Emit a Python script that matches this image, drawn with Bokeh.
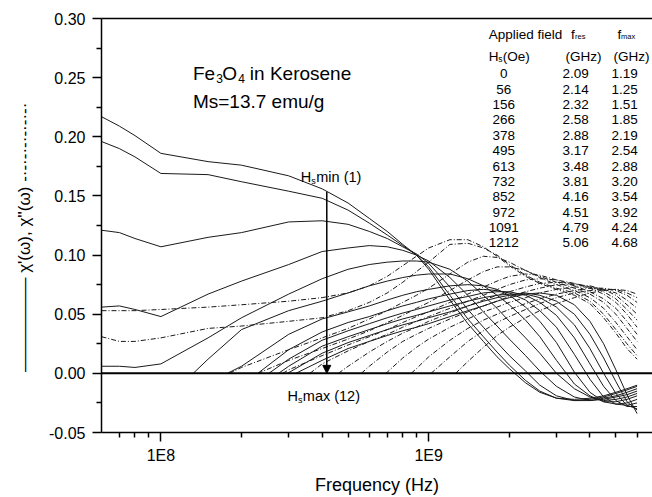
from bokeh.plotting import figure
from bokeh.models import (Range1d, FixedTicker, CustomJSTickFormatter, PrintfTickFormatter,
                          LogAxis, Label, Span, Arrow, NormalHead)
from bokeh.embed import file_html
from bokeh.resources import INLINE

# ---------------- data ----------------
freq = [6e7, 7e7, 8e7, 1e8, 1.5e8, 2e8, 3e8, 4e8, 5e8, 6e8, 7e8, 8e8, 9e8, 1e9,
        1.2e9, 1.4e9, 1.6e9, 1.8e9, 2e9, 2.3e9, 2.6e9, 3e9, 3.5e9, 4e9, 4.5e9, 5e9, 5.5e9, 6e9]

fields = [0, 56, 156, 266, 378, 495, 613, 732, 852, 972, 1091, 1212]
f_res = [2.09, 2.14, 2.32, 2.58, 2.88, 3.17, 3.48, 3.81, 4.16, 4.51, 4.79, 5.06]
f_max = [1.19, 1.25, 1.51, 1.85, 2.19, 2.54, 2.88, 3.20, 3.54, 3.92, 4.24, 4.68]

N = None
# chi' (solid), one list per field
re_0 = [0.217, 0.209, 0.201, 0.186, 0.179, 0.176, 0.167, 0.156, 0.144, 0.131, 0.120, 0.109, 0.100, 0.088,
        0.062, 0.042, 0.027, 0.014, 0.004, -0.008, -0.016, -0.021, -0.022, -0.021, -0.019, -0.016, -0.013, -0.010]
re_56 = [0.196, 0.190, 0.183, 0.169, 0.168, 0.162, 0.154, 0.148, 0.138, 0.127, 0.117, 0.108, 0.100, 0.090,
         0.066, 0.046, 0.031, 0.018, 0.007, -0.006, -0.015, -0.021, -0.023, -0.022, -0.020, -0.017, -0.014, -0.011]
re_156 = [0.121, 0.119, 0.114, 0.107, 0.115, 0.119, 0.128, 0.129, 0.126, 0.120, 0.114, 0.107, 0.101, 0.093,
          0.073, 0.054, 0.039, 0.026, 0.015, 0.002, -0.010, -0.019, -0.023, -0.023, -0.021, -0.019, -0.016, -0.013]
re_266 = [0.056, 0.057, 0.054, 0.048, 0.067, 0.078, 0.092, 0.103, 0.106, 0.108, 0.107, 0.104, 0.100, 0.095,
          0.081, 0.066, 0.052, 0.040, 0.029, 0.015, 0.002, -0.011, -0.020, -0.023, -0.022, -0.020, -0.018, -0.015]
re_378 = [0.006, 0.006, 0.005, 0.008, 0.030, 0.047, 0.067, 0.080, 0.088, 0.092, 0.094, 0.095, 0.095, 0.094,
          0.088, 0.078, 0.066, 0.055, 0.044, 0.030, 0.017, 0.000, -0.013, -0.020, -0.023, -0.022, -0.020, -0.017]
re_495 = [N, N, N, N, 0.012, 0.037, 0.053, 0.061, 0.068, 0.074, 0.078, 0.081, 0.083, 0.084,
          0.084, 0.080, 0.074, 0.066, 0.058, 0.045, 0.031, 0.011, -0.009, -0.019, -0.024, -0.024, -0.022, -0.019]
re_613 = [N, N, N, N, N, 0.006, 0.033, 0.046, 0.052, 0.057, 0.062, 0.066, 0.069, 0.071,
          0.074, 0.075, 0.074, 0.071, 0.066, 0.056, 0.044, 0.026, 0.001, -0.016, -0.024, -0.026, -0.025, -0.022]
re_732 = [N, N, N, N, N, N, 0.020, 0.035, 0.043, 0.048, 0.053, 0.057, 0.060, 0.063,
          0.067, 0.070, 0.071, 0.070, 0.068, 0.062, 0.053, 0.039, 0.016, -0.005, -0.020, -0.026, -0.027, -0.025]
re_852 = [N, N, N, N, N, N, 0.012, 0.028, 0.036, 0.042, 0.047, 0.051, 0.054, 0.057,
          0.062, 0.065, 0.068, 0.069, 0.069, 0.066, 0.060, 0.049, 0.030, 0.008, -0.011, -0.023, -0.028, -0.028]
re_972 = [N, N, N, N, N, N, 0.006, 0.023, 0.031, 0.037, 0.042, 0.046, 0.049, 0.052,
          0.057, 0.061, 0.064, 0.066, 0.067, 0.067, 0.064, 0.056, 0.041, 0.021, 0.000, -0.017, -0.027, -0.030]
re_1091 = [N, N, N, N, N, N, N, 0.017, 0.026, 0.032, 0.037, 0.041, 0.044, 0.047,
           0.052, 0.057, 0.061, 0.064, 0.066, 0.068, 0.066, 0.061, 0.050, 0.033, 0.013, -0.007, -0.024, -0.031]
re_1212 = [N, N, N, N, N, N, N, 0.011, 0.021, 0.027, 0.032, 0.036, 0.039, 0.042,
           0.048, 0.053, 0.057, 0.061, 0.064, 0.067, 0.068, 0.066, 0.058, 0.044, 0.025, 0.003, -0.018, -0.034]
# frequency where a chi' curve leaves the zero line
re_onset = [N, N, N, N, N, 1.32e8, 1.77e8, 2.3e8, 2.53e8, 2.75e8, 2.97e8, 3.19e8]

# chi'' (dash-dot), one list per field
im_0 = [0.053, 0.053, 0.053, 0.054, 0.056, 0.058, 0.061, 0.064, 0.068, 0.074, 0.082, 0.091, 0.099, 0.106,
        0.113, 0.113, 0.107, 0.099, 0.091, 0.082, 0.076, 0.071, 0.066, 0.059, 0.047, 0.034, 0.021, 0.012]
im_56 = [0.031, 0.027, 0.027, 0.030, 0.038, 0.040, 0.044, 0.047, 0.053, 0.060, 0.068, 0.077, 0.086, 0.094,
         0.109, 0.110, 0.106, 0.100, 0.092, 0.083, 0.077, 0.072, 0.068, 0.061, 0.050, 0.037, 0.025, 0.015]
im_156 = [N, N, N, N, N, 0.005, 0.020, 0.030, 0.038, 0.046, 0.053, 0.060, 0.066, 0.072,
          0.084, 0.094, 0.099, 0.098, 0.094, 0.087, 0.081, 0.075, 0.070, 0.064, 0.055, 0.043, 0.031, 0.020]
im_266 = [N, N, N, N, N, N, 0.011, 0.021, 0.029, 0.036, 0.043, 0.049, 0.055, 0.060,
          0.070, 0.079, 0.086, 0.090, 0.090, 0.087, 0.082, 0.077, 0.072, 0.067, 0.060, 0.050, 0.038, 0.027]
im_378 = [N, N, N, N, N, N, 0.003, 0.015, 0.024, 0.031, 0.037, 0.043, 0.048, 0.052,
          0.060, 0.067, 0.073, 0.078, 0.082, 0.084, 0.083, 0.079, 0.074, 0.069, 0.063, 0.055, 0.044, 0.033]
im_495 = [N, N, N, N, N, N, N, 0.008, 0.019, 0.027, 0.033, 0.039, 0.044, 0.048,
          0.055, 0.061, 0.066, 0.071, 0.075, 0.079, 0.080, 0.079, 0.076, 0.072, 0.067, 0.060, 0.050, 0.039]
im_613 = [N, N, N, N, N, N, N, N, 0.006, 0.018, 0.027, 0.034, 0.039, 0.044,
          0.051, 0.057, 0.062, 0.066, 0.069, 0.073, 0.076, 0.077, 0.076, 0.073, 0.069, 0.063, 0.054, 0.045]
im_732 = [N, N, N, N, N, N, N, N, N, 0.006, 0.018, 0.027, 0.033, 0.038,
          0.046, 0.052, 0.057, 0.061, 0.065, 0.069, 0.072, 0.075, 0.075, 0.074, 0.071, 0.066, 0.058, 0.050]
im_852 = [N, N, N, N, N, N, N, N, N, N, 0.001, 0.013, 0.022, 0.029,
          0.039, 0.046, 0.052, 0.056, 0.060, 0.064, 0.068, 0.071, 0.073, 0.073, 0.071, 0.068, 0.062, 0.055]
im_972 = [N, N, N, N, N, N, N, N, N, N, N, N, 0.004, 0.014,
          0.028, 0.038, 0.045, 0.050, 0.054, 0.059, 0.063, 0.067, 0.070, 0.072, 0.072, 0.070, 0.066, 0.060]
im_1091 = [N, N, N, N, N, N, N, N, N, N, N, N, N, N,
           0.014, 0.027, 0.036, 0.043, 0.048, 0.054, 0.059, 0.064, 0.068, 0.070, 0.071, 0.071, 0.068, 0.064]
im_1212 = [N, N, N, N, N, N, N, N, N, N, N, N, N, N,
           N, 0.010, 0.022, 0.032, 0.039, 0.047, 0.053, 0.059, 0.064, 0.068, 0.070, 0.071, 0.070, 0.067]
im_onset = [N, N, 1.8e8, 2.3e8, 2.85e8, 3.6e8, 4.6e8, 5.6e8, 6.9e8, 8.6e8, 1.02e9, 1.26e9]

x_major = [1e8, 1e9]
x_minor = [7e7, 8e7, 9e7, 2e8, 3e8, 4e8, 5e8, 6e8, 7e8, 8e8, 9e8, 2e9, 3e9, 4e9, 5e9, 6e9]
y_major = [-0.05, 0.0, 0.05, 0.10, 0.15, 0.20, 0.25, 0.30]
y_minor = [-0.025, 0.025, 0.075, 0.125, 0.175, 0.225, 0.275]

re_curves = [re_0, re_56, re_156, re_266, re_378, re_495, re_613, re_732, re_852, re_972, re_1091, re_1212]
im_curves = [im_0, im_56, im_156, im_266, im_378, im_495, im_613, im_732, im_852, im_972, im_1091, im_1212]

# ---------------- layout helpers (reference pixel -> data) ----------------
X0, DEC = 428.0, 268.0      # pixel of 1E9, pixels per decade
Y0, PPU = 375.6, 1191.4     # pixel of 0.00, pixels per unit


def fx(px):
    return 1e9 * 10 ** ((px - X0) / DEC)


def vy(py):
    return (Y0 - py) / PPU


FONT = "Liberation Sans"
INK = "#1a1a1a"

p = figure(width=652, height=497, x_axis_type="log",
           x_range=Range1d(6e7, 6.85e9), y_range=Range1d(-0.05, 0.30),
           output_backend="svg", toolbar_location=None,
           min_border_left=101, min_border_right=0, min_border_top=18, min_border_bottom=62)
p.grid.visible = False
p.outline_line_color = None
p.background_fill_color = "white"
p.border_fill_color = "white"


def build(vals, onset):
    xs, ys = [], []
    if onset is not None:
        xs.append(onset)
        ys.append(0.0)
    for f, v in zip(freq, vals):
        if v is not None:
            xs.append(f)
            ys.append(v)
    return xs, ys


for vals, on in zip(im_curves, im_onset):
    xs, ys = build(vals, on)
    p.line(xs, ys, line_color=INK, line_width=1, line_dash="5 2 1 2")
for vals, on in zip(re_curves, re_onset):
    xs, ys = build(vals, on)
    p.line(xs, ys, line_color=INK, line_width=1)

p.add_layout(Span(location=0, dimension="width", line_color="black", line_width=2))

# axes
xa = p.xaxis[0]
xa.ticker = FixedTicker(ticks=x_major, minor_ticks=x_minor)
xa.formatter = CustomJSTickFormatter(code="return '1E' + Math.round(Math.log10(tick));")
ya = p.yaxis[0]
ya.ticker = FixedTicker(ticks=y_major, minor_ticks=y_minor)
ya.formatter = PrintfTickFormatter(format="%.2f")
for ax in (xa, ya):
    ax.axis_line_width = 1.5
    ax.axis_line_color = "black"
    ax.major_tick_line_width = 1.5
    ax.minor_tick_line_width = 1.5
    ax.major_tick_in = 0
    ax.major_tick_out = 9
    ax.minor_tick_in = 0
    ax.minor_tick_out = 5
    ax.major_label_text_font = FONT
    ax.major_label_text_font_size = "16px"
    ax.major_label_text_color = "black"
    ax.axis_label_text_font = FONT
    ax.axis_label_text_font_style = "normal"
    ax.axis_label_text_color = "black"
xa.major_label_standoff = 5
xa.axis_label = "Frequency (Hz)"
xa.axis_label_text_font_size = "18px"
xa.axis_label_standoff = 8
ya.major_label_standoff = 7
# axis title with its own line keys: solid line for chi', dash-dot line for chi''
key_solid = "\u2014" * 5 + "\u2013"
key_dashdot = "-\u00b7" * 7
ya.axis_label = key_solid + "    " + "χ'(ω), χ''(ω)" + "   " + key_dashdot
ya.axis_label_text_font_size = "17px"
ya.axis_label_standoff = 12

top = LogAxis(ticker=FixedTicker(ticks=[]), major_tick_out=0, major_tick_in=0,
              minor_tick_out=0, minor_tick_in=0, major_label_text_font_size="0px",
              major_label_standoff=0, axis_line_width=1.5, axis_line_color="black")
p.add_layout(top, "above")

# arrow Hs min -> Hs max
p.add_layout(Arrow(end=NormalHead(size=8, fill_color="black", line_color="black"),
                   x_start=fx(326), x_end=fx(326), y_start=vy(192.7), y_end=0.0,
                   line_color="black", line_width=1.5))


def txt(px, py, s, size, align="left"):
    p.add_layout(Label(x=fx(px), y=vy(py), text=s, text_font=FONT, text_font_size=f"{size}px",
                       text_color="black", text_align=align, text_baseline="alphabetic"))


# sample description
txt(192, 73.3, "Fe", 19)
txt(215.5, 78.5, "3", 12)
txt(221.5, 73.3, "O", 19)
txt(237.5, 78.5, "4", 12)
txt(249, 73.3, "in Kerosene", 19)
txt(192, 101.7, "Ms=13.7 emu/g", 19)

# Hs min / Hs max
txt(300, 178.3, "H", 14.5)
txt(310.5, 182, "s", 9)
txt(315.5, 178.3, "min (1)", 14.5)
txt(286.7, 398.3, "H", 14.5)
txt(297.2, 402, "s", 9)
txt(302, 398.3, "max (12)", 14.5)

# table
TS = 13.5
txt(488, 34, "Applied field", TS)
txt(570.5, 34, "f", TS)
txt(574.5, 36.5, "res", 7.5)
txt(617, 34, "f", TS)
txt(620.5, 36.5, "max", 7.5)
txt(488, 56, "H", TS)
txt(497.7, 59, "s", 8.5)
txt(502, 56, "(Oe)", TS)
txt(583, 56, "(GHz)", TS, "center")
txt(631, 56, "(GHz)", TS, "center")
for i, (h, fr, fm) in enumerate(zip(fields, f_res, f_max)):
    base = 73.8 + 15.5 * i
    txt(503, base, str(h), TS, "center")
    txt(575, base, f"{fr:.2f}", TS, "center")
    txt(624, base, f"{fm:.2f}", TS, "center")

open("out.html", "w").write(file_html(p, INLINE))
